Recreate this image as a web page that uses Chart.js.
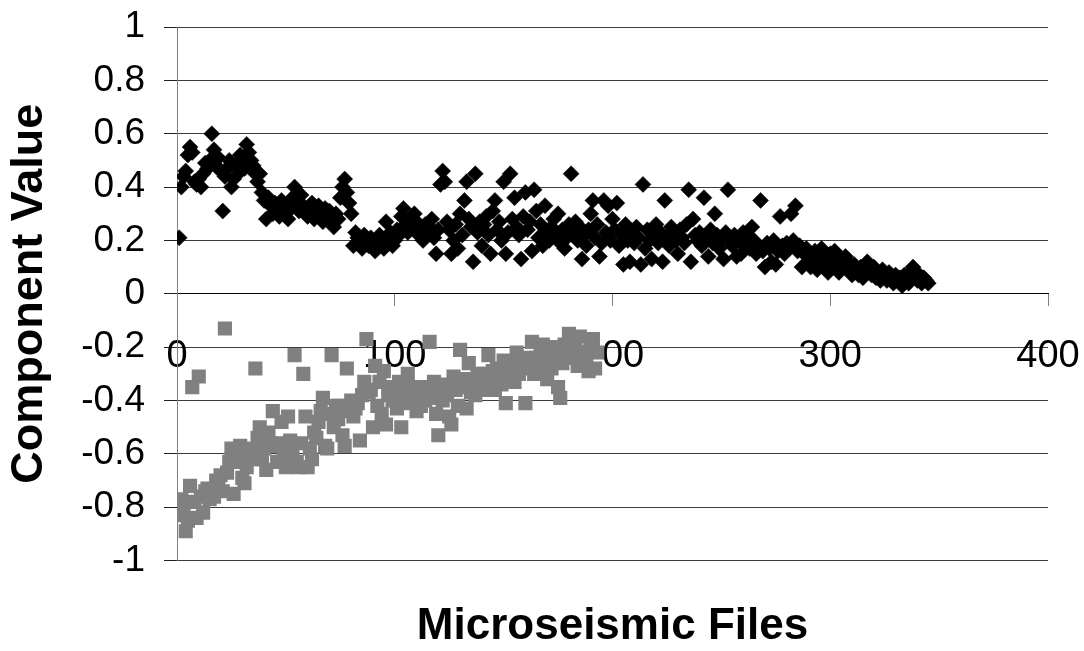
<!DOCTYPE html>
<html><head><meta charset="utf-8">
<script src="https://cdn.jsdelivr.net/npm/chart.js@4.4.1/dist/chart.umd.min.js"></script>
<style>html,body{margin:0;padding:0;background:#fff;} #wrap{width:1084px;height:651px;}</style>
</head><body><div id="wrap"><canvas id="c" width="1084" height="651"></canvas></div>
<script>
// Series 1 (black diamonds): component values for files 1..345
const blackValues = [
0.21,0.40,0.44,0.46,0.52,0.55,0.53,0.42,0.41,0.43,
0.40,0.45,0.49,0.47,0.50,0.60,0.54,0.48,0.51,0.46,
0.31,0.44,0.47,0.50,0.40,0.43,0.48,0.45,0.52,0.49,
0.47,0.56,0.53,0.50,0.48,0.45,0.42,0.45,0.38,0.35,
0.28,0.36,0.33,0.30,0.34,0.31,0.29,0.35,0.32,0.30,
0.28,0.33,0.36,0.40,0.34,0.31,0.37,0.33,0.30,0.29,
0.32,0.34,0.28,0.31,0.33,0.30,0.27,0.32,0.29,0.31,
0.27,0.25,0.30,0.28,0.36,0.40,0.43,0.38,0.34,0.30,
0.18,0.23,0.21,0.19,0.17,0.22,0.20,0.18,0.21,0.19,
0.16,0.20,0.22,0.19,0.17,0.27,0.21,0.23,0.18,0.20,
0.24,0.22,0.29,0.32,0.26,0.23,0.28,0.25,0.30,0.27,
0.22,0.24,0.20,0.26,0.23,0.25,0.28,0.21,0.15,0.24,
0.41,0.46,0.42,0.27,0.24,0.15,0.20,0.26,0.17,0.30,
0.22,0.35,0.42,0.28,0.25,0.12,0.45,0.23,0.27,0.18,
0.26,0.29,0.22,0.15,0.31,0.35,0.24,0.27,0.20,0.42,
0.15,0.23,0.45,0.28,0.36,0.25,0.22,0.13,0.29,0.38,
0.24,0.27,0.16,0.39,0.31,0.21,0.26,0.18,0.33,0.23,
0.20,0.25,0.28,0.22,0.30,0.19,0.24,0.17,0.21,0.26,
0.45,0.23,0.27,0.20,0.25,0.13,0.22,0.18,0.24,0.30,
0.35,0.21,0.26,0.14,0.19,0.35,0.23,0.33,0.20,0.28,
0.24,0.34,0.18,0.22,0.11,0.26,0.20,0.12,0.23,0.19,
0.25,0.21,0.11,0.41,0.17,0.24,0.20,0.13,0.22,0.26,
0.19,0.23,0.12,0.35,0.21,0.18,0.25,0.22,0.20,0.15,
0.24,0.21,0.19,0.26,0.39,0.12,0.28,0.22,0.20,0.23,
0.18,0.36,0.21,0.14,0.24,0.19,0.30,0.22,0.17,0.20,
0.13,0.23,0.39,0.21,0.18,0.22,0.14,0.20,0.15,0.23,
0.19,0.21,0.17,0.25,0.20,0.15,0.18,0.35,0.16,0.10,
0.19,0.17,0.12,0.20,0.11,0.16,0.29,0.18,0.15,0.19,
0.17,0.30,0.20,0.33,0.16,0.18,0.10,0.15,0.17,0.12,
0.10,0.14,0.16,0.09,0.12,0.17,0.11,0.13,0.08,0.15,
0.10,0.16,0.12,0.08,0.13,0.10,0.14,0.09,0.11,0.07,
0.11,0.09,0.07,0.10,0.06,0.08,0.12,0.09,0.07,0.10,
0.06,0.08,0.05,0.09,0.07,0.05,0.08,0.06,0.04,0.07,
0.05,0.06,0.03,0.07,0.05,0.04,0.08,0.10,0.06,0.05,
0.07,0.04,0.06,0.05,0.04
];
// Series 2 (grey squares): component values for files 1..193
const grayValues = [
-0.83,-0.77,-0.80,-0.89,-0.85,-0.72,-0.35,-0.78,-0.84,-0.31,
-0.76,-0.82,-0.74,-0.73,-0.77,-0.75,-0.76,-0.70,-0.72,-0.68,
-0.74,-0.13,-0.67,-0.63,-0.58,-0.75,-0.60,-0.63,-0.57,-0.69,
-0.71,-0.65,-0.60,-0.58,-0.62,-0.28,-0.54,-0.50,-0.62,-0.58,
-0.66,-0.52,-0.56,-0.44,-0.57,-0.63,-0.56,-0.48,-0.60,-0.65,
-0.46,-0.55,-0.60,-0.23,-0.63,-0.65,-0.56,-0.30,-0.46,-0.65,
-0.58,-0.62,-0.52,-0.54,-0.48,-0.44,-0.39,-0.57,-0.58,-0.45,
-0.23,-0.50,-0.42,-0.47,-0.42,-0.53,-0.57,-0.28,-0.44,-0.40,
-0.46,-0.43,-0.41,-0.55,-0.38,-0.33,-0.17,-0.37,-0.36,-0.50,
-0.27,-0.42,-0.33,-0.45,-0.29,-0.49,-0.38,-0.35,-0.40,-0.38,
-0.43,-0.33,-0.50,-0.36,-0.41,-0.30,-0.40,-0.35,-0.37,-0.44,
-0.38,-0.42,-0.35,-0.40,-0.36,-0.18,-0.39,-0.33,-0.45,-0.53,
-0.36,-0.40,-0.34,-0.38,-0.46,-0.49,-0.31,-0.36,-0.42,-0.21,
-0.35,-0.32,-0.43,-0.26,-0.37,-0.33,-0.38,-0.30,-0.35,-0.36,
-0.30,-0.34,-0.23,-0.31,-0.29,-0.36,-0.28,-0.32,-0.34,-0.25,
-0.41,-0.31,-0.29,-0.27,-0.33,-0.22,-0.30,-0.26,-0.28,-0.41,
-0.27,-0.24,-0.18,-0.30,-0.24,-0.27,-0.21,-0.19,-0.25,-0.32,
-0.23,-0.28,-0.24,-0.20,-0.35,-0.39,-0.26,-0.19,-0.22,-0.15,
-0.24,-0.19,-0.21,-0.27,-0.16,-0.22,-0.25,-0.23,-0.29,-0.20,
-0.17,-0.28,-0.22
];
const xTickValues = [0, 100, 200, 300, 400];
const xTickLabels = ['0', '100', '200', '300', '400'];
const yTickValues = [-1, -0.8, -0.6, -0.4, -0.2, 0, 0.2, 0.4, 0.6, 0.8, 1];
const yTickLabels = ['-1', '-0.8', '-0.6', '-0.4', '-0.2', '0', '0.2', '0.4', '0.6', '0.8', '1'];
const xTitle = 'Microseismic Files';
const yTitle = 'Component Value';

const blackPoints = blackValues.map((v, i) => ({x: i + 1, y: v}));
const grayPoints = grayValues.map((v, i) => ({x: i + 1, y: v}));
const FONT = '"Liberation Sans", Arial, Helvetica, sans-serif';

function zeroPad(s) { s.paddingTop = 0; s.paddingBottom = 0; s.paddingLeft = 0; s.paddingRight = 0; }

new Chart(document.getElementById('c'), {
  type: 'scatter',
  data: {
    datasets: [
      {
        label: 'Component 1',
        data: blackPoints,
        pointStyle: 'rectRot',
        pointRadius: 8,
        backgroundColor: '#000000',
        borderColor: '#000000',
        borderWidth: 0.5
      },
      {
        label: 'Component 2',
        data: grayPoints,
        pointStyle: 'rect',
        pointRadius: 10,
        backgroundColor: '#808080',
        borderColor: '#808080',
        borderWidth: 0
      }
    ]
  },
  options: {
    responsive: false,
    animation: false,
    devicePixelRatio: 1,
    layout: {padding: {left: 0, right: 36, top: 27, bottom: 0}},
    plugins: {
      legend: {display: false},
      tooltip: {enabled: false},
      title: {
        display: true,
        text: xTitle,
        position: 'bottom',
        fullSize: false,
        align: 'center',
        color: '#000000',
        font: {family: FONT, size: 44, weight: 'bold', lineHeight: 1.1},
        padding: {top: 42, bottom: 0}
      }
    },
    scales: {
      x: {
        type: 'linear',
        min: 0,
        max: 400,
        position: {y: 0},
        z: 1,
        afterBuildTicks: (s) => { s.ticks = xTickValues.map(v => ({value: v})); },
        afterFit: (s) => { zeroPad(s); },
        ticks: {
          callback: (v, i) => xTickLabels[i],
          color: '#000000',
          font: {family: FONT, size: 38},
          padding: 28,
          maxRotation: 0
        },
        grid: {drawOnChartArea: false, drawTicks: true, tickLength: 12, tickColor: '#808080', tickWidth: 1},
        border: {display: true, color: '#000000', width: 1}
      },
      y: {
        type: 'linear',
        min: -1,
        max: 1,
        position: 'left',
        afterBuildTicks: (s) => { s.ticks = yTickValues.map(v => ({value: v})); },
        afterFit: (s) => { s.width = 177; zeroPad(s); },
        ticks: {
          callback: (v, i) => yTickLabels[i],
          color: '#000000',
          font: {family: FONT, size: 37},
          padding: 19
        },
        grid: {color: '#3c3c3c', lineWidth: 1, drawTicks: true, tickLength: 13, tickColor: '#222222'},
        border: {display: true, color: '#808080', width: 1},
        title: {
          display: true,
          text: yTitle,
          color: '#000000',
          font: {family: FONT, size: 45, weight: 'bold', lineHeight: 1.2},
          padding: {top: 3, bottom: 0}
        }
      }
    }
  }
});
</script>
</body></html>
